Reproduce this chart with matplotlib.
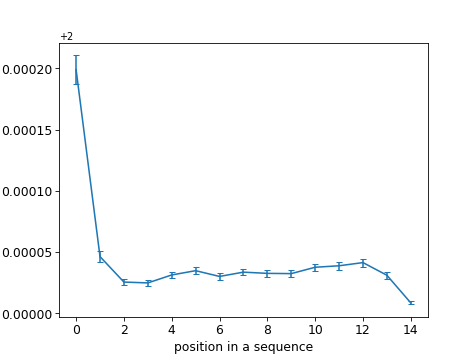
import matplotlib
matplotlib.use("Agg")
import matplotlib.pyplot as plt
from matplotlib.ticker import MultipleLocator
import numpy as np

positions = list(range(15))
means = [0.000199, 0.0000463, 0.0000255, 0.0000248, 0.0000313, 0.0000348, 0.0000301,
         0.0000336, 0.0000326, 0.0000324, 0.0000376, 0.0000388, 0.0000414, 0.0000311, 0.0000085]
errors = [0.000012, 0.0000045, 0.0000025, 0.0000025, 0.0000027, 0.0000028, 0.0000028,
          0.0000027, 0.0000030, 0.0000030, 0.0000030, 0.0000032, 0.0000032, 0.0000030, 0.0000012]
baseline = 2.0

vals = [baseline + m for m in means]

plt.rcParams['font.size'] = 12
fig = plt.figure(figsize=(6.4, 4.8), dpi=475 / 6.4)
ax = fig.add_subplot(111)
ax.errorbar(positions, vals, yerr=errors, capsize=2.5)
ax.set_xlabel("position in a sequence")
ax.yaxis.set_major_locator(MultipleLocator(0.00005))
ax.yaxis.get_offset_text().set_fontsize(9.5)
fig.savefig("out.png", dpi=475 / 6.4)
